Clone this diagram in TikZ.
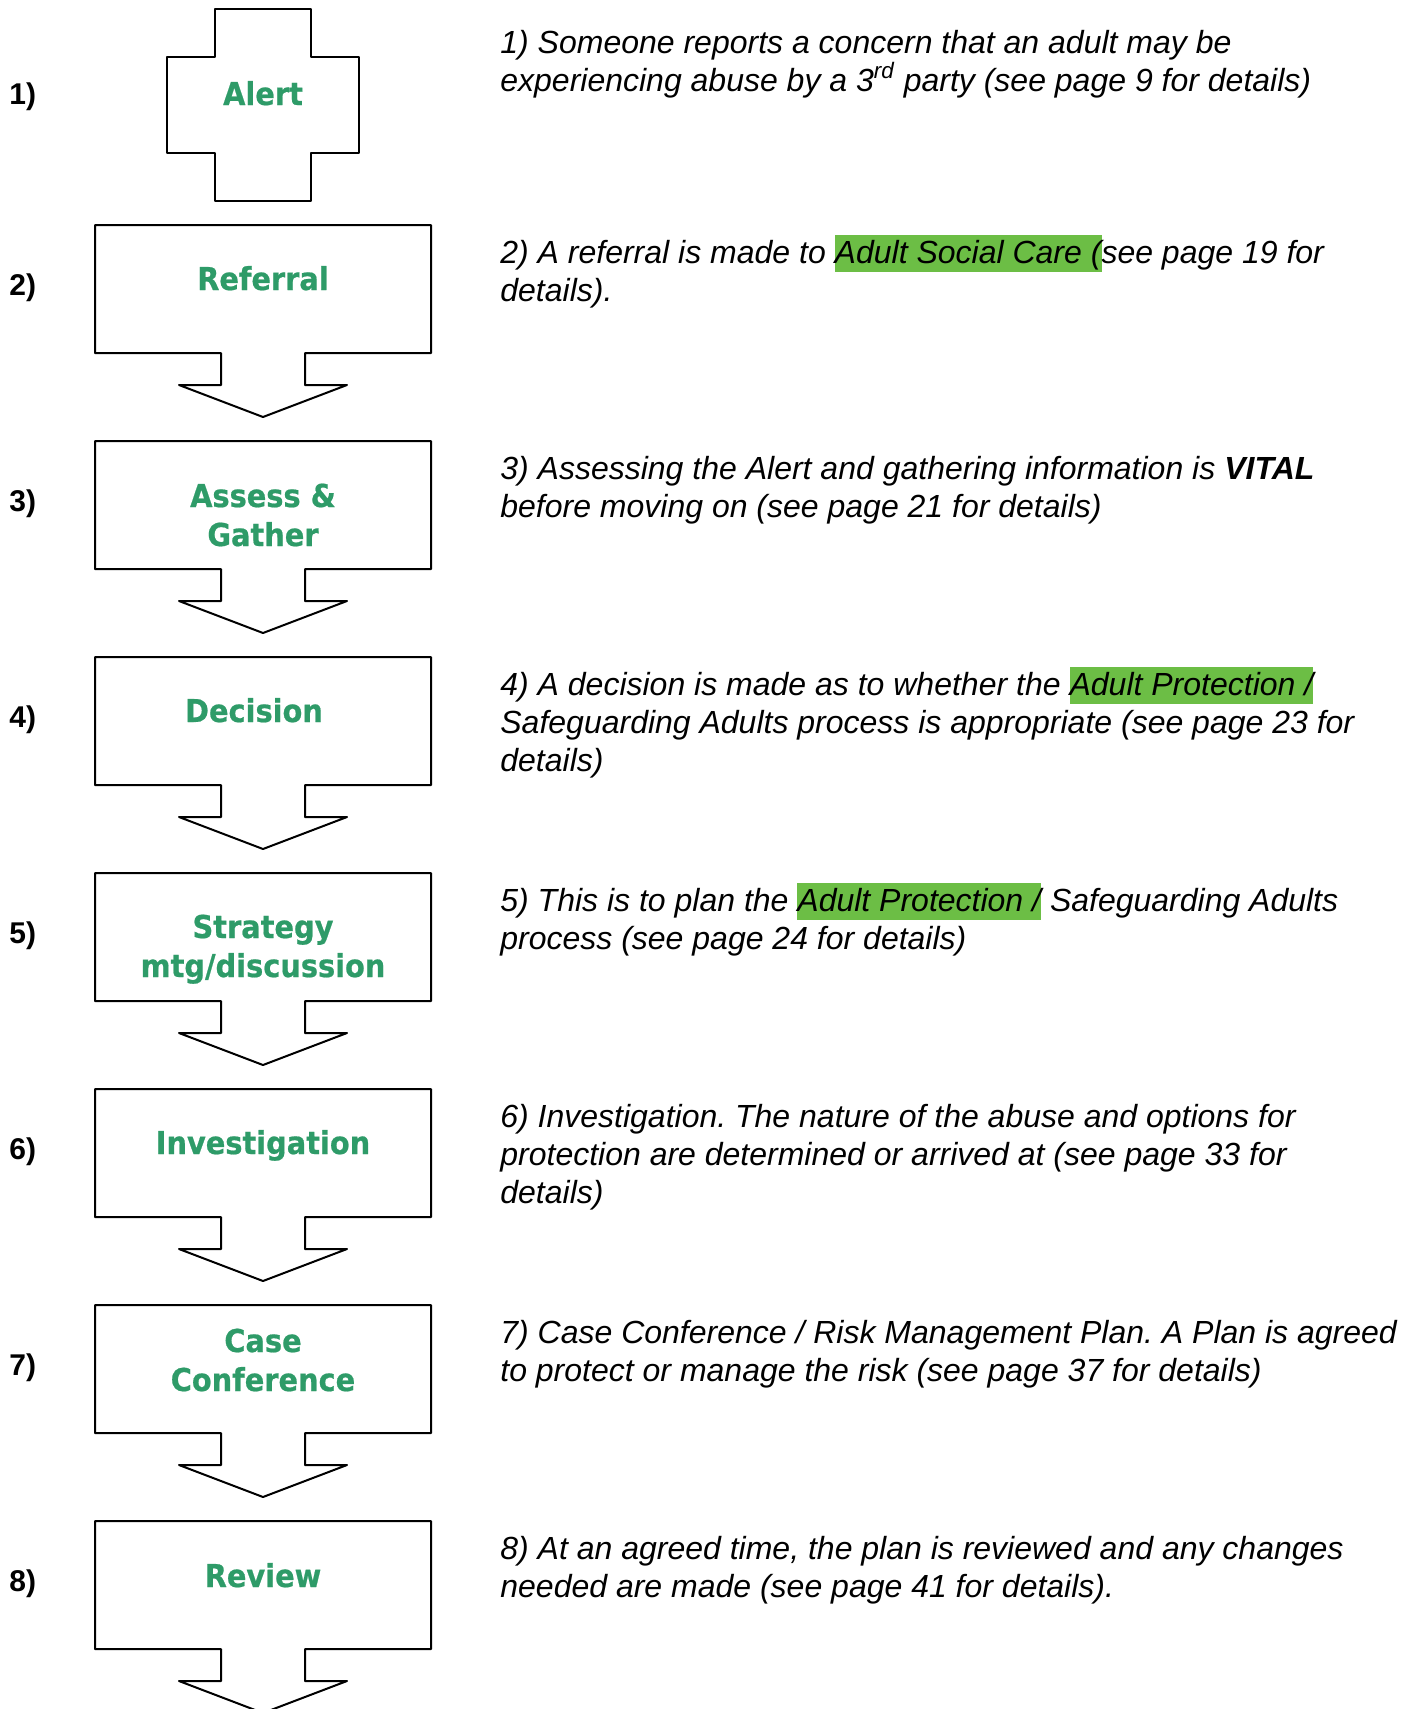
\documentclass[tikz,border=0pt]{standalone}
\usepackage{fontspec}
\setmainfont{Liberation Sans}
\newfontfamily\stepfont{DejaVu Sans}[FakeStretch=0.915, FakeBold=0.6]

\definecolor{stepgreen}{RGB}{46,155,104}
\definecolor{hlgreen}{RGB}{108,190,69}

% highlighted phrase, one line tall
\newcommand\hlmark[1]{{\setlength{\fboxsep}{0pt}\colorbox{hlgreen}{\rule[-4.5pt]{0pt}{18.5pt}#1}}}
% two centred lines, baseline on the first one
\newcommand\twolines[2]{\vtop{\hbox to 0pt{\hss#1\hss}\hbox to 0pt{\hss#2\hss}}}

\tikzset{
  flow/.style={draw=black, line width=1pt, line join=round, fill=white},
  steptext/.style={font=\stepfont\bfseries\fontsize{15.75}{19.5}\selectfont,
    text=stepgreen, inner sep=0pt, anchor=base},
  numlabel/.style={font=\bfseries\fontsize{15}{18}\selectfont, inner sep=0pt, anchor=base west},
  desc/.style={font=\itshape\fontsize{16}{19.15}\selectfont, inner sep=0pt, anchor=base west},
}

\begin{document}
\frenchspacing
\begin{tikzpicture}[x=0.5pt, y=-0.5pt]
\useasboundingbox (0,0) rectangle (1415,1709);
\clip (0,0) rectangle (1415,1709);

% step 1: cross-shaped block
\draw[flow] (215,9) -- (311,9) -- (311,57) -- (359,57) -- (359,153) -- (311,153)
  -- (311,201) -- (215,201) -- (215,153) -- (167,153) -- (167,57) -- (215,57) -- cycle;

% steps 2-8: box with a block arrow underneath
\foreach \t in {225,441,657,873,1089,1305,1521} {
  \draw[flow] (95,\t) -- (431,\t) -- (431,\t+128) -- (305,\t+128) -- (305,\t+160)
    -- (347,\t+160) -- (263,\t+192) -- (179,\t+160) -- (221,\t+160) -- (221,\t+128)
    -- (95,\t+128) -- cycle;
}

% step titles
\node[steptext] (alert) at (263,105) {Alert};
\node[steptext] (referral) at (263,290) {Referral};
\node[steptext] (assess) at (263,507) {\twolines{Assess \&}{Gather}};
\node[steptext] (decision) at (254,722) {Decision};
\node[steptext] (strategy) at (263,938) {\twolines{Strategy}{mtg/discussion}};
\node[steptext] (investigation) at (263,1154) {Investigation};
\node[steptext] (conference) at (263,1352) {\twolines{Case}{Conference}};
\node[steptext] (review) at (263,1587) {Review};

% step numbers
\node[numlabel] (n1) at (9,104) {1)};
\node[numlabel] (n2) at (9,295) {2)};
\node[numlabel] (n3) at (9,511) {3)};
\node[numlabel] (n4) at (9,727) {4)};
\node[numlabel] (n5) at (9,943) {5)};
\node[numlabel] (n6) at (9,1159) {6)};
\node[numlabel] (n7) at (9,1375) {7)};
\node[numlabel] (n8) at (9,1591) {8)};

% descriptions
\node[desc] (d1) at (500,53) {\vtop{%
  \hbox{1) Someone reports a concern that an adult may be}%
  \hbox{experiencing abuse by a 3\textsuperscript{rd} party (see page 9 for details)}}};
\node[desc] (d2) at (500,263) {\vtop{%
  \hbox{2) A referral is made to \hlmark{Adult Social Care (}see page 19 for}%
  \hbox{details).}}};
\node[desc] (d3) at (500,479) {\vtop{%
  \hbox{3) Assessing the Alert and gathering information is \textbf{VITAL}}%
  \hbox{before moving on (see page 21 for details)}}};
\node[desc] (d4) at (500,695) {\vtop{%
  \hbox{4) A decision is made as to whether the \hlmark{Adult Protection /}}%
  \hbox{Safeguarding Adults process is appropriate (see page 23 for}%
  \hbox{details)}}};
\node[desc] (d5) at (500,911) {\vtop{%
  \hbox{5) This is to plan the \hlmark{Adult Protection /} Safeguarding Adults}%
  \hbox{process (see page 24 for details)}}};
\node[desc] (d6) at (500,1127) {\vtop{%
  \hbox{6) Investigation. The nature of the abuse and options for}%
  \hbox{protection are determined or arrived at (see page 33 for}%
  \hbox{details)}}};
\node[desc] (d7) at (500,1343) {\vtop{%
  \hbox{7) Case Conference / Risk Management Plan. A Plan is agreed}%
  \hbox{to protect or manage the risk (see page 37 for details)}}};
\node[desc] (d8) at (500,1559) {\vtop{%
  \hbox{8) At an agreed time, the plan is reviewed and any changes}%
  \hbox{needed are made (see page 41 for details).}}};
\end{tikzpicture}
\end{document}
